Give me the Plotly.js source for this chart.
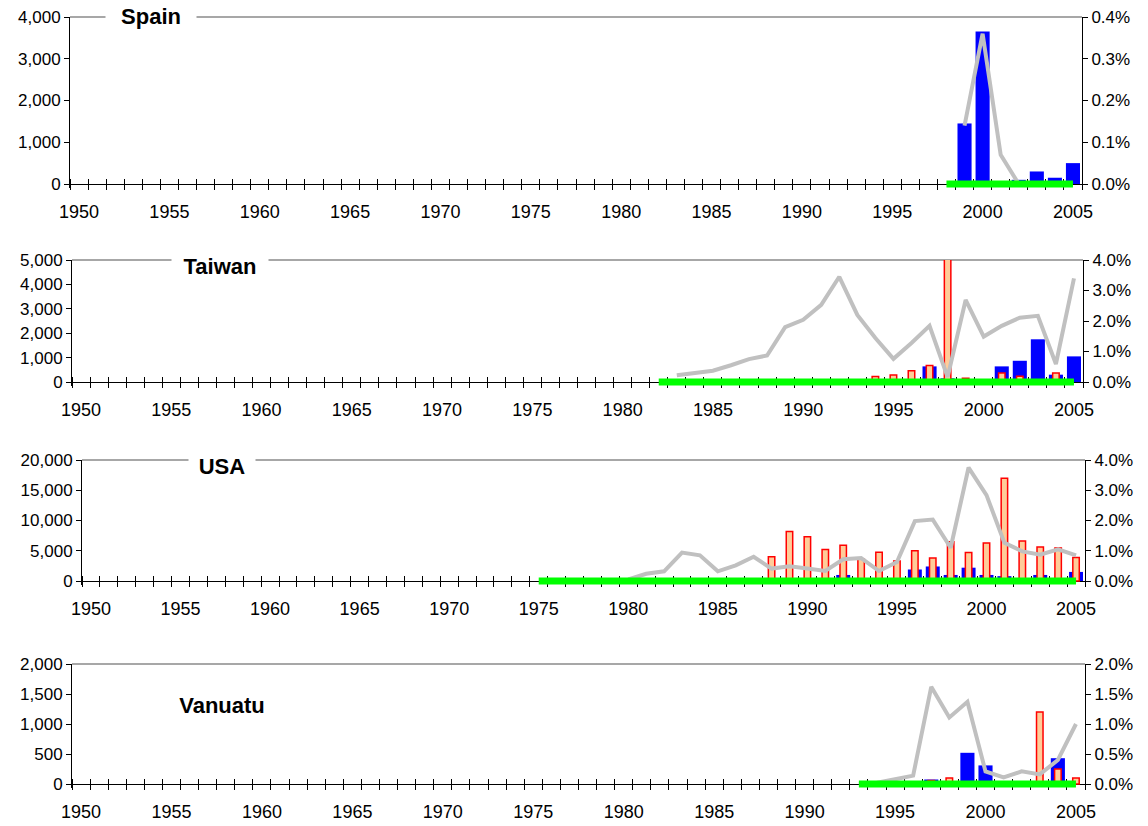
<!DOCTYPE html>
<html><head><meta charset="utf-8">
<script src="https://cdn.plot.ly/plotly-3.0.1.min.js"></script>
<style>html,body{margin:0;padding:0;background:#fff}#chart{width:1148px;height:826px}</style>
</head><body><div id="chart"></div>
<script>
// ---------- data ----------
const tickYears = [1950, 1955, 1960, 1965, 1970, 1975, 1980, 1985, 1990, 1995, 2000, 2005];
const tickLabels = ['1950', '1955', '1960', '1965', '1970', '1975', '1980', '1985', '1990', '1995', '2000', '2005'];

const spainBlueYears = [1999, 2000, 2002, 2003, 2004, 2005];
const spainBlue = [1450, 3650, 100, 300, 150, 500];
const spainPeachYears = [];
const spainPeach = [];
const spainShareYears = [1999, 2000, 2001, 2002];
const spainShare = [0.14, 0.36, 0.07, 0.0];
const spainCoverYears = [1998, 2005];
const spainCover = [0, 0];

const taiwanBlueYears = [1997, 1998, 2001, 2002, 2003, 2004, 2005];
const taiwanBlue = [640, 150, 640, 870, 1750, 300, 1050];
const taiwanPeachYears = [1994, 1995, 1996, 1997, 1998, 1999, 2001, 2002, 2004];
const taiwanPeach = [230, 290, 460, 680, 6000, 150, 370, 240, 370];
const taiwanShareYears = [1983, 1984, 1985, 1986, 1987, 1988, 1989, 1990, 1991, 1992, 1993, 1994, 1995, 1996, 1997, 1998, 1999, 2000, 2001, 2002, 2003, 2004, 2005];
const taiwanShare = [0.22, 0.31, 0.37, 0.55, 0.75, 0.87, 1.80, 2.04, 2.53, 3.45, 2.20, 1.44, 0.76, 1.28, 1.84, 0.16, 2.69, 1.49, 1.84, 2.11, 2.17, 0.59, 3.40];
const taiwanCoverYears = [1982, 2005];
const taiwanCover = [0, 0];

const usaBlueYears = [1992, 1996, 1997, 1998, 1999, 2000, 2001, 2003, 2005];
const usaBlue = [1000, 1900, 2400, 1000, 2200, 1000, 800, 1000, 1500];
const usaPeachYears = [1988, 1989, 1990, 1991, 1992, 1993, 1994, 1995, 1996, 1997, 1998, 1999, 2000, 2001, 2002, 2003, 2004, 2005];
const usaPeach = [4000, 8200, 7300, 5200, 5900, 3600, 4750, 3300, 5000, 3800, 6500, 4700, 6300, 17000, 6600, 5600, 5450, 3900];
const usaShareYears = [1980, 1981, 1982, 1983, 1984, 1985, 1986, 1987, 1988, 1989, 1990, 1991, 1992, 1993, 1994, 1995, 1996, 1997, 1998, 1999, 2000, 2001, 2002, 2003, 2004, 2005];
const usaShare = [0.05, 0.24, 0.32, 0.94, 0.85, 0.32, 0.52, 0.80, 0.41, 0.49, 0.41, 0.33, 0.72, 0.76, 0.33, 0.63, 1.98, 2.03, 1.10, 3.75, 2.84, 1.26, 0.98, 0.87, 1.05, 0.85];
const usaCoverYears = [1975, 2005];
const usaCover = [0, 0];

const vanuatuBlueYears = [1997, 1999, 2000, 2004];
const vanuatuBlue = [75, 520, 310, 430];
const vanuatuPeachYears = [1997, 1998, 2003, 2004, 2005];
const vanuatuPeach = [60, 100, 1200, 250, 100];
const vanuatuShareYears = [1993, 1994, 1995, 1996, 1997, 1998, 1999, 2000, 2001, 2002, 2003, 2004, 2005];
const vanuatuShare = [0.0, 0.02, 0.08, 0.14, 1.62, 1.11, 1.37, 0.21, 0.11, 0.21, 0.16, 0.40, 1.00];
const vanuatuCoverYears = [1993, 2005];
const vanuatuCover = [0, 0];

const spainLeftTicks = [0, 1000, 2000, 3000, 4000];
const spainRightTicks = [0, 0.1, 0.2, 0.3, 0.4];
const taiwanLeftTicks = [0, 1000, 2000, 3000, 4000, 5000];
const taiwanRightTicks = [0, 1, 2, 3, 4];
const usaLeftTicks = [0, 5000, 10000, 15000, 20000];
const usaRightTicks = [0, 1, 2, 3, 4];
const vanuatuLeftTicks = [0, 500, 1000, 1500, 2000];
const vanuatuRightTicks = [0, 0.5, 1, 1.5, 2];

// ---------- layout / styling ----------
const W = 1148, H = 826;
const FONT = 'Liberation Sans, Arial, Helvetica, sans-serif';
const YTICKFONT = {family: FONT, size: 17, color: '#000'};
const XTICKFONT = {family: FONT, size: 18, color: '#000'};
const panels = [
  {name: 'Spain', bx: spainBlueYears, by: spainBlue, px: spainPeachYears, py: spainPeach,
   sx: spainShareYears, sy: spainShare, cx: spainCoverYears, cy: spainCover,
   lt: spainLeftTicks, rt: spainRightTicks,
   left: 70, right: 1082, top: 17, zero: 184, title: {x: 151, y: 17, w: 88, bg: true}},
  {name: 'Taiwan', bx: taiwanBlueYears, by: taiwanBlue, px: taiwanPeachYears, py: taiwanPeach,
   sx: taiwanShareYears, sy: taiwanShare, cx: taiwanCoverYears, cy: taiwanCover,
   lt: taiwanLeftTicks, rt: taiwanRightTicks,
   left: 72, right: 1083, top: 260, zero: 382, title: {x: 220, y: 267, w: 94, bg: true}},
  {name: 'USA', bx: usaBlueYears, by: usaBlue, px: usaPeachYears, py: usaPeach,
   sx: usaShareYears, sy: usaShare, cx: usaCoverYears, cy: usaCover,
   lt: usaLeftTicks, rt: usaRightTicks,
   left: 82, right: 1085, top: 460, zero: 581, title: {x: 222, y: 466, w: 64, bg: true}},
  {name: 'Vanuatu', bx: vanuatuBlueYears, by: vanuatuBlue, px: vanuatuPeachYears, py: vanuatuPeach,
   sx: vanuatuShareYears, sy: vanuatuShare, cx: vanuatuCoverYears, cy: vanuatuCover,
   lt: vanuatuLeftTicks, rt: vanuatuRightTicks,
   left: 72, right: 1085, top: 664, zero: 784, title: {x: 222, y: 705, w: 100, bg: false}}
];

const traces = [];
const layout = {
  width: W, height: H, margin: {l: 0, r: 0, t: 0, b: 0, pad: 0},
  paper_bgcolor: '#ffffff', plot_bgcolor: 'rgba(0,0,0,0)',
  showlegend: false, barmode: 'overlay',
  font: {family: FONT, size: 17, color: '#000'},
  shapes: [], annotations: []
};

const PAD = 4;
panels.forEach((p, i) => {
  const a = 2 * i + 1, b = 2 * i + 2;
  const xa = a === 1 ? 'x' : 'x' + a, ya = a === 1 ? 'y' : 'y' + a;
  const xb = 'x' + b, yb = 'y' + b;
  const xaN = a === 1 ? 'xaxis' : 'xaxis' + a, yaN = a === 1 ? 'yaxis' : 'yaxis' + a;
  const xbN = 'xaxis' + b, ybN = 'yaxis' + b;
  const h = p.zero - p.top;
  const ydom = [1 - (p.zero + PAD) / H, 1 - p.top / H];
  const xdom = [p.left / W, p.right / W];
  const pos = 1 - p.zero / H;
  const lmax = p.lt[p.lt.length - 1], rmax = p.rt[p.rt.length - 1];

  layout[xaN] = {
    domain: xdom, anchor: 'free', position: pos, range: [1949.5, 2005.5],
    tickmode: 'array', tickvals: tickYears, ticktext: tickLabels,
    ticks: 'outside', ticklen: 11, tickcolor: 'rgba(0,0,0,0)',
    showline: true, linecolor: '#000', linewidth: 1, layer: 'below traces',
    showgrid: false, zeroline: false, fixedrange: true,
    tickfont: XTICKFONT,
    minor: {tickmode: 'linear', tick0: 1949.5, dtick: 1, ticks: 'outside', ticklen: 5, tickcolor: '#000', tickwidth: 1, showgrid: false}
  };
  layout[xbN] = {
    overlaying: xa, anchor: 'free', position: pos, range: [1949.5, 2005.5],
    showticklabels: false, ticks: '', showline: false, showgrid: false, zeroline: false, fixedrange: true,
    layer: 'below traces',
    minor: {tickmode: 'linear', tick0: 1949.5, dtick: 1, ticks: 'inside', ticklen: 5, tickcolor: '#000', tickwidth: 1, showgrid: false}
  };
  layout[yaN] = {
    domain: ydom, anchor: xa, range: [-lmax * PAD / h, lmax],
    tickmode: 'array', tickvals: p.lt, ticktext: p.lt.map(v => v.toLocaleString('en-US')),
    ticks: 'outside', ticklen: 5, tickcolor: '#000',
    showline: true, linecolor: '#000', linewidth: 1,
    showgrid: false, zeroline: false, fixedrange: true,
    tickfont: YTICKFONT
  };
  layout[ybN] = {
    overlaying: ya, anchor: xb, side: 'right', range: [-rmax * PAD / h, rmax],
    tickmode: 'array', tickvals: p.rt, ticktext: p.rt.map(v => v.toFixed(1) + '%'),
    ticks: 'outside', ticklen: 5, tickcolor: '#000',
    showline: true, linecolor: '#000', linewidth: 1,
    showgrid: false, zeroline: false, fixedrange: true,
    tickfont: YTICKFONT
  };

  // top border line of plot area
  layout.shapes.push({type: 'line', xref: xa + ' domain', yref: ya + ' domain', x0: 0, x1: 1, y0: 1, y1: 1,
    line: {color: '#8a8a8a', width: 1.5}, layer: 'below'});

  layout.annotations.push({
    xref: 'paper', yref: 'paper', x: p.title.x / W, y: 1 - p.title.y / H,
    xanchor: 'center', yanchor: 'middle', showarrow: false,
    text: '<b>' + p.name + '</b>', width: p.title.w, align: 'center',
    bgcolor: p.title.bg ? '#ffffff' : 'rgba(0,0,0,0)',
    font: {family: FONT, size: 22, color: '#000'}
  });

  traces.push({type: 'bar', x: p.bx, y: p.by, xaxis: xa, yaxis: ya, width: 0.78,
    marker: {color: '#0000FF', line: {width: 0}}, hoverinfo: 'skip'});
  traces.push({type: 'bar', x: p.px, y: p.py, xaxis: xa, yaxis: ya, width: 0.36,
    marker: {color: '#FFCC99', line: {color: '#FF0000', width: 1.5}}, hoverinfo: 'skip'});
  traces.push({type: 'scatter', mode: 'lines', x: p.sx, y: p.sy, xaxis: xb, yaxis: yb,
    line: {color: '#C0C0C0', width: 4}, hoverinfo: 'skip'});
  traces.push({type: 'scatter', mode: 'lines', x: p.cx, y: p.cy, xaxis: xb, yaxis: yb,
    line: {color: '#00FF00', width: 7}, hoverinfo: 'skip'});
});

Plotly.newPlot('chart', traces, layout, {staticPlot: true, displayModeBar: false});
</script>
</body></html>
